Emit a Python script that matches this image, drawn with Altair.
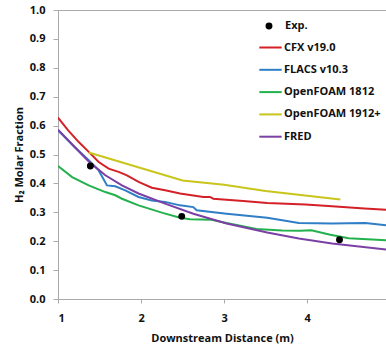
import altair as alt
import pandas as pd

series_names = ["CFX v19.0", "FLACS v10.3", "OpenFOAM 1812", "OpenFOAM 1912+", "FRED"]
series_colors = ["#d42027", "#2f7ec6", "#22b14c", "#c9c51b", "#7b3fa5"]

cfx_x = [1.0, 1.12, 1.25, 1.37, 1.49, 1.61, 1.73, 1.83, 1.97, 2.13, 2.29, 2.47, 2.75, 2.83, 2.87, 3.23, 3.52, 3.98, 4.30, 4.69, 4.95]
cfx_y = [0.628, 0.584, 0.543, 0.509, 0.474, 0.451, 0.440, 0.428, 0.405, 0.385, 0.376, 0.365, 0.353, 0.353, 0.347, 0.339, 0.332, 0.327, 0.321, 0.313, 0.309]

flacs_x = [1.0, 1.2, 1.37, 1.49, 1.59, 1.69, 1.81, 1.97, 2.13, 2.29, 2.47, 2.63, 2.67, 3.03, 3.52, 3.90, 4.30, 4.70, 4.95]
flacs_y = [0.584, 0.526, 0.48, 0.445, 0.393, 0.39, 0.376, 0.353, 0.341, 0.336, 0.324, 0.318, 0.307, 0.295, 0.281, 0.263, 0.261, 0.263, 0.255]

of1812_x = [1.0, 1.17, 1.37, 1.57, 1.69, 1.77, 1.97, 2.26, 2.47, 2.59, 2.85, 3.0, 3.39, 3.7, 3.92, 4.05, 4.28, 4.5, 4.95]
of1812_y = [0.46, 0.422, 0.393, 0.37, 0.359, 0.347, 0.324, 0.298, 0.281, 0.276, 0.274, 0.265, 0.242, 0.237, 0.236, 0.238, 0.222, 0.21, 0.203]

of1912_x = [1.37, 2.5, 3.0, 3.5, 4.4]
of1912_y = [0.507, 0.41, 0.395, 0.374, 0.344]

fred_x = [1.0, 1.2, 1.37, 1.57, 1.77, 1.97, 2.29, 2.63, 3.03, 3.52, 3.90, 4.30, 4.95]
fred_y = [0.586, 0.526, 0.476, 0.428, 0.393, 0.365, 0.33, 0.295, 0.261, 0.23, 0.209, 0.192, 0.171]

exp_x = [1.39, 2.49, 4.39]
exp_y = [0.46, 0.286, 0.205]

x_ticks = [1, 2, 3, 4]
y_ticks = [0.0, 0.1, 0.2, 0.3, 0.4, 0.5, 0.6, 0.7, 0.8, 0.9, 1.0]

rows = []
for name, xs, ys in zip(series_names,
                        [cfx_x, flacs_x, of1812_x, of1912_x, fred_x],
                        [cfx_y, flacs_y, of1812_y, of1912_y, fred_y]):
    for i, (a, b) in enumerate(zip(xs, ys)):
        rows.append({"series": name, "x": a, "y": b, "order": i})
lines_df = pd.DataFrame(rows)
exp_df = pd.DataFrame({"x": exp_x, "y": exp_y, "kind": ["Exp."] * len(exp_x)})

FONT = "Open Sans"

xscale = alt.Scale(domain=[1, 4.95], nice=False, zero=False)
yscale = alt.Scale(domain=[0, 1], nice=False)

xaxis = alt.Axis(title="Downstream Distance (m)", values=x_ticks, format="d",
                 grid=False, tickSize=4, labelPadding=9, titlePadding=9, labelOverlap=False)
yaxis = alt.Axis(title="H₂ Molar Fraction", values=y_ticks, tickCount=11,
                 format=".1f", grid=False, tickSize=5, labelPadding=8, titlePadding=5, labelOverlap=False)

lines = alt.Chart(lines_df).mark_line(strokeWidth=2, clip=True).encode(
    x=alt.X("x:Q", scale=xscale, axis=xaxis),
    y=alt.Y("y:Q", scale=yscale, axis=yaxis),
    color=alt.Color("series:N",
                    scale=alt.Scale(domain=series_names, range=series_colors),
                    legend=alt.Legend(title=None, orient="none", legendX=200, legendY=25,
                                      symbolType="stroke", symbolSize=500, symbolStrokeWidth=2,
                                      labelOffset=1, rowPadding=4.3, padding=0,
                                      labelFont=FONT, labelFontSize=11, labelFontWeight="bold",
                                      labelColor="#111")),
    order="order:Q",
)

points = alt.Chart(exp_df).mark_point(filled=True, size=48, color="black", opacity=1).encode(
    x=alt.X("x:Q", scale=xscale, axis=xaxis),
    y=alt.Y("y:Q", scale=yscale, axis=yaxis),
    shape=alt.Shape("kind:N", scale=alt.Scale(domain=["Exp."], range=["circle"]),
                    legend=alt.Legend(title=None, orient="none", legendX=205.5, legendY=10.5,
                                      symbolSize=48, symbolFillColor="black", symbolStrokeColor="black",
                                      labelOffset=10.5, padding=0,
                                      labelFont=FONT, labelFontSize=11, labelFontWeight="bold",
                                      labelColor="#111")),
)

chart = alt.layer(lines, points).resolve_legend(color="independent", shape="independent").properties(
    width=328, height=289,
    autosize=alt.AutoSizeParams(type="none"),
    padding={"left": 58, "top": 10, "right": 0, "bottom": 47},
).configure_view(stroke="#aaaaaa", strokeWidth=1).configure_axis(
    domainColor="#aaaaaa", tickColor="#aaaaaa",
    labelFont=FONT, labelFontSize=11, labelFontWeight="bold", labelColor="#111",
    titleFont=FONT, titleFontSize=11, titleFontWeight="bold", titleColor="#111",
)

chart.save("out.html", embed_options={"renderer": "svg", "actions": False})
